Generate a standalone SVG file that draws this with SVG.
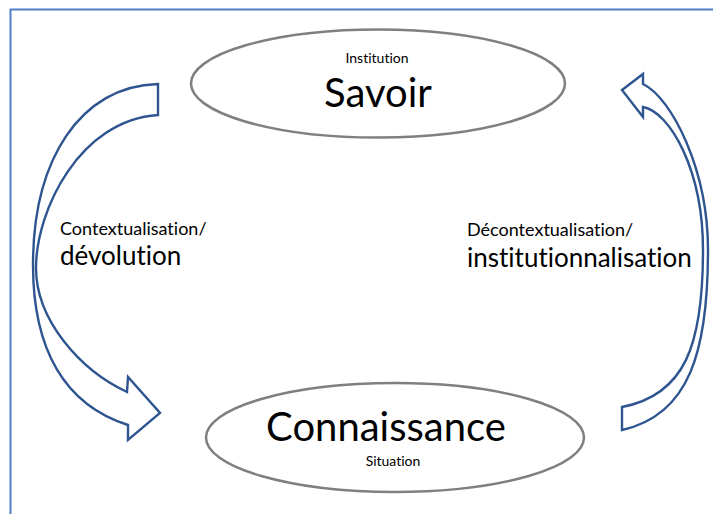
<svg xmlns="http://www.w3.org/2000/svg" width="713" height="514" viewBox="0 0 713 514">
<style>
.frame{fill:none;stroke:#4f7fc4;stroke-width:2}
.ell{fill:#fff;stroke:#7f7f7f;stroke-width:2.5}
.arr{fill:#fff;stroke:#2f5590;stroke-width:2.4;stroke-linejoin:miter}
text{font-family:Lato,"Liberation Sans",sans-serif;fill:#000;font-variant-ligatures:none;font-feature-settings:"liga" 0,"clig" 0,"dlig" 0}
.big{font-size:40px}
.small{font-size:14px}
.lab1{font-size:18px}
.lab2{font-size:26px}
</style>
<rect x="0" y="0" width="713" height="514" fill="#fff"/>
<path class="frame" d="M10.5,514 V9.5 H713"/>
<g id="connectors">
<path id="arrow-left" class="arr" d="M158,84 C80,86 33,160 33,265 C33,350 65,405 128,425 L128,440 L160,413 L128,377 L127,392 C80,370 36,320 36,268 C36,210 80,120 158,115 Z"/>
<path id="arrow-right" class="arr" d="M643,84 C672,98 708,170 708,250 C708,350 690,415 622,430 L622,407 C685,395 703,345 703,250 C703,170 670,112 643,107 L643,117 L622,90 L643,74 Z"/>
</g>
<g id="node-savoir">
<ellipse class="ell" cx="378" cy="83.5" rx="187" ry="54"/>
<text class="small" x="377" y="63" text-anchor="middle">Institution</text>
<text class="big" x="378" y="107" text-anchor="middle">Savoir</text>
</g>
<g id="node-connaissance">
<ellipse class="ell" cx="395" cy="437.5" rx="189" ry="54.5"/>
<text class="big" x="386" y="441" text-anchor="middle">Connaissance</text>
<text class="small" x="393" y="466" text-anchor="middle">Situation</text>
</g>
<g id="label-left">
<text class="lab1" x="60" y="235">Contextualisation/</text>
<text class="lab2" x="60" y="265">dévolution</text>
</g>
<g id="label-right">
<text class="lab1" x="467" y="236">Décontextualisation/</text>
<text class="lab2" x="467" y="267">institutionnalisation</text>
</g>
</svg>
